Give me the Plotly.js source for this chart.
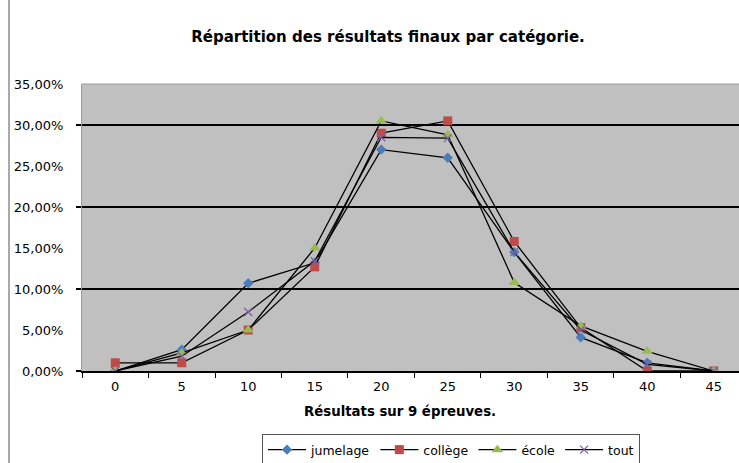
<!DOCTYPE html>
<html><head><meta charset="utf-8">
<script src="https://cdn.plot.ly/plotly-3.0.1.min.js"></script>
<style>body{margin:0;background:#fff}#c{width:739px;height:463px}</style>
</head><body><div id="c"></div>
<script>
const categories = [0, 5, 10, 15, 20, 25, 30, 35, 40, 45];
const jumelage = [0.000, 0.026, 0.107, 0.132, 0.270, 0.260, 0.145, 0.041, 0.010, 0.000];
const college  = [0.010, 0.010, 0.050, 0.127, 0.290, 0.305, 0.158, 0.053, 0.000, 0.000];
const ecole    = [0.000, 0.022, 0.050, 0.150, 0.305, 0.288, 0.108, 0.055, 0.024, 0.000];
const tout     = [0.000, 0.018, 0.072, 0.134, 0.285, 0.284, 0.145, 0.050, 0.008, 0.000];
const seriesNames = ['jumelage', 'collège', 'école', 'tout'];
const xTitle = 'Résultats sur 9 épreuves.';
const chartTitle = 'Répartition des résultats finaux par catégorie.';

const F = 'DejaVu Sans, Liberation Sans, Arial, sans-serif';
const mk = [
  {symbol:'diamond', color:'#4A7EBB', size:8},
  {symbol:'square', color:'#BE4B48', size:9},
  {symbol:'triangle-up', color:'#98B954', size:10},
  {symbol:'x-thin', color:'#7D60A0', size:8, line:{color:'#7D60A0', width:1.3}}
];
const data = [jumelage, college, ecole, tout].map((ys, i) => ({
  type:'scatter', mode:'lines+markers', x: categories, y: ys, name: seriesNames[i],
  line:{color:'#000', width:1.3}, marker: mk[i]
}));
data.push({type:'scatter', x:[0], y:[0], yaxis:'y2', showlegend:false, mode:'markers', marker:{opacity:0}, hoverinfo:'skip'});

const layout = {
  width:739, height:463,
  margin:{l:82, r:0, t:84, b:92},
  paper_bgcolor:'#fff', plot_bgcolor:'#C0C0C0',
  separators:', ',
  font:{family:F, size:12, color:'#000'},
  title:{text:'<b>'+chartTitle+'</b>', font:{family:F, size:15, color:'#000'}, x:388/739, xanchor:'center', y:1-37/463, yanchor:'middle'},
  xaxis:{range:[-2.5, 46.9], tickvals:categories, ticktext:categories.map(String), ticks:'', showgrid:false, zeroline:false,
         showline:true, linecolor:'#000', linewidth:1.5, automargin:false,
         minor:{ticks:'outside', tick0:2.5, dtick:5, ticklen:5, tickcolor:'#000', tickwidth:1, showgrid:false},
         tickfont:{family:F, size:13}, ticklabelstandoff:3},
  yaxis:{range:[0, 0.35], dtick:0.05, tickformat:'.2%', ticks:'', showgrid:false, zeroline:false,
         showline:true, linecolor:'#9a9a9a', linewidth:1, automargin:false,
         tickfont:{family:F, size:13}, ticklabelstandoff:15},
  yaxis2:{overlaying:'y', range:[0, 0.35], dtick:0.1, showticklabels:false, ticks:'outside', ticklen:5, tickcolor:'#000', tickwidth:1.5,
          showgrid:true, gridcolor:'#000', gridwidth:1.5, zeroline:false, showline:false, automargin:false},
  annotations:[{text:'<b>'+xTitle+'</b>', xref:'paper', yref:'paper', x:(400-82)/657, y:-(411-371)/287, xanchor:'center', yanchor:'middle',
                showarrow:false, font:{family:F, size:13.3, color:'#000'}}],
  showlegend:true,
  legend:{orientation:'h', xref:'container', yref:'container', x:262/739, xanchor:'left', y:1-434/463, yanchor:'top',
          bordercolor:'#555', borderwidth:1, bgcolor:'#fff', font:{family:F, size:12.5}, itemwidth:38, tracegroupgap:0},
  shapes:[{type:'line', xref:'paper', yref:'paper', x0:(9-82)/657, x1:(9-82)/657, y0:-0.4, y1:1.35, line:{color:'#555', width:1}},
          {type:'line', xref:'paper', yref:'paper', x0:0, x1:1, y0:1, y1:1, line:{color:'#9a9a9a', width:1}}]
};
Plotly.newPlot('c', data, layout, {displayModeBar:false, staticPlot:true});
</script></body></html>
